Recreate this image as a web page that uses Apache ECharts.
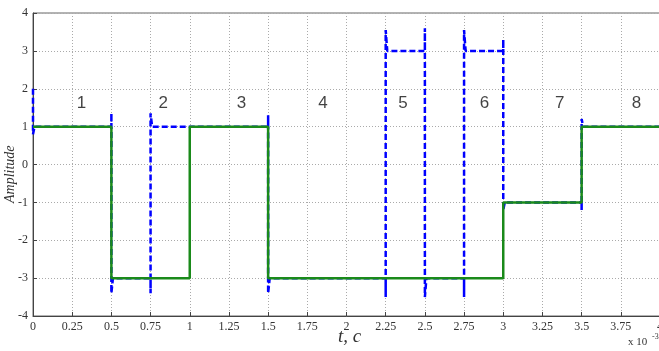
<!DOCTYPE html>
<html><head><meta charset="utf-8">
<script src="https://cdn.jsdelivr.net/npm/echarts@6/dist/echarts.min.js"></script>
<style>html,body{margin:0;padding:0;background:#fff}#c{width:659px;height:351px}</style>
</head><body><div id="c"></div>
<script>
// Green (solid) signal: [t (x10^-3 s), amplitude]
const greenPoints = [[0,1],[0.5,1],[0.5,-3],[1,-3],[1,1],[1.5,1],[1.5,-3],[3,-3],[3,-1],[3.5,-1],[3.5,1],[4,1]];
// Blue (dashed) signal with overshoot spikes at jumps
const bluePoints = [
  [0,2.0],[0,0.8],[0.01,1],[0.5,1],[0.5,1.35],[0.5,-3.4],[0.51,-3],
  [0.75,-3],[0.75,-3.4],[0.75,1.35],[0.76,1],[1.5,1],[1.5,1.3],[1.5,-3.4],[1.51,-3],
  [2.25,-3],[2.25,-3.5],[2.25,3.55],[2.26,3],[2.5,3],[2.5,3.6],[2.5,-3.5],[2.51,-3],
  [2.75,-3],[2.75,-3.5],[2.75,3.55],[2.76,3],[3.0,3],[3.0,3.3],[3.0,-1.2],[3.01,-1],
  [3.5,-1],[3.5,-1.2],[3.5,1.2],[3.51,1],[4,1]
];
const segmentLabels = ['1','2','3','4','5','6','7','8'];
const segmentLabelX = [0.31,0.83,1.33,1.85,2.36,2.88,3.36,3.85];
const segmentLabelY = 1.62;
const xTicks = ['0','0.25','0.5','0.75','1','1.25','1.5','1.75','2','2.25','2.5','2.75','3','3.25','3.5','3.75','4'];

const chart = echarts.init(document.getElementById('c'), null, {renderer:'canvas'});
const serif = '"Liberation Serif","DejaVu Serif",serif';
chart.setOption({
  animation:false,
  backgroundColor:'#fff',
  grid:{left:33, right:-1, top:13, bottom:35, containLabel:false, outerBoundsMode:'none'},
  xAxis:{type:'value', min:0, max:4, interval:0.25,
    axisLine:{show:true,onZero:false,lineStyle:{color:'#444',width:1}},
    axisTick:{show:true,inside:true,length:4,lineStyle:{color:'#444'}},
    axisLabel:{color:'#333',fontFamily:serif,fontSize:12,margin:5,hideOverlap:false,showMaxLabel:true,
      formatter:v=>{const i=Math.round(v/0.25);return xTicks[i]!==undefined?xTicks[i]:'';}},
    splitLine:{show:true,lineStyle:{color:'#aaa',type:[1,2],width:1}}},
  yAxis:{type:'value', min:-4, max:4, interval:1,
    axisLine:{show:true,onZero:false,lineStyle:{color:'#444',width:1}},
    axisTick:{show:true,inside:true,length:4,lineStyle:{color:'#444'}},
    axisLabel:{color:'#333',fontFamily:serif,fontSize:12,margin:5},
    splitLine:{show:true,lineStyle:{color:'#aaa',type:[1,2],width:1}}},
  graphic:[
    {type:'rect',shape:{x:33,y:13,width:630,height:303},style:{fill:'none',stroke:'#666',lineWidth:1},silent:true,z:-1},
    {type:'text',left:338,top:327,style:{text:'t, c',font:'italic 19px '+serif,fill:'#333'}},
    {type:'text',x:3,y:203,rotation:Math.PI/2,style:{text:'Amplitude',font:'italic 14px '+serif,fill:'#333'}},
    {type:'text',left:628,top:337,style:{text:'x 10',font:'11px '+serif,fill:'#333'}},
    {type:'text',left:652,top:333,style:{text:'-3',font:'8px '+serif,fill:'#333'}}
  ],
  series:[
    {type:'line',data:bluePoints,showSymbol:false,z:2,
      lineStyle:{color:'#0000ff',width:2.5,type:[6,3]}},
    {type:'line',data:greenPoints,showSymbol:false,z:3,
      lineStyle:{color:'#1a8a1a',width:2.5}},
    {type:'scatter',symbolSize:0,z:4,
      data:segmentLabelX.map((x,i)=>({value:[x,segmentLabelY],label:{show:true,formatter:segmentLabels[i]}})),
      label:{position:'inside',color:'#111',fontSize:17,fontFamily:'"Liberation Sans",Arial,sans-serif'}}
  ]
});
</script></body></html>
